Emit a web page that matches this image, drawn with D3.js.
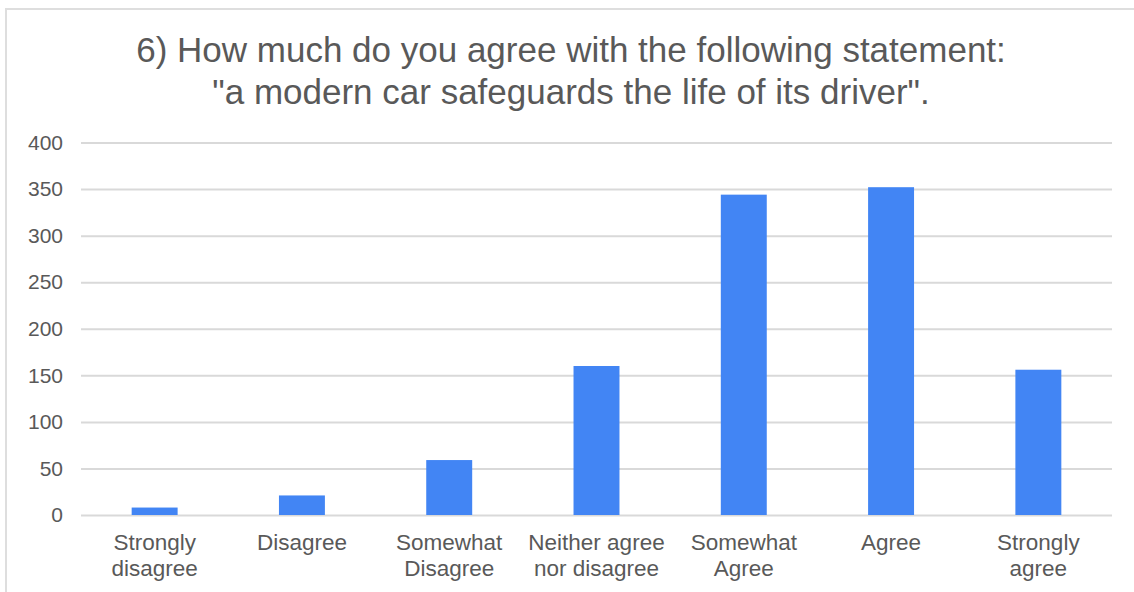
<!DOCTYPE html>
<html>
<head>
<meta charset="utf-8">
<script src="https://cdn.jsdelivr.net/npm/d3@7"></script>
<style>
  html, body { margin: 0; padding: 0; background: #ffffff; }
  svg { display: block; }
</style>
</head>
<body>
<svg id="chart" width="1134" height="592"></svg>
<script>
// Survey answers and response counts
const categories = [
  ["Strongly", "disagree"],
  ["Disagree"],
  ["Somewhat", "Disagree"],
  ["Neither agree", "nor disagree"],
  ["Somewhat", "Agree"],
  ["Agree"],
  ["Strongly", "agree"]
];
const counts = [8, 21, 59, 160, 344, 352, 156];
const yTicks = [0, 50, 100, 150, 200, 250, 300, 350, 400];
const titleLines = [
  "6) How much do you agree with the following statement:",
  "\"a modern car safeguards the life of its driver\"."
];

const W = 1134, H = 592;
const plot = { left: 81, right: 1112, top: 142.5, bottom: 515 };
const textColor = "#595959";
const gridColor = "#d9d9d9";
const barColor = "#4285f4";
const font = "'Liberation Sans', Arial, sans-serif";

const svg = d3.select("#chart");

// frame edges of the chart card
svg.append("line").attr("x1", 6).attr("x2", W).attr("y1", 9).attr("y2", 9)
  .attr("stroke", "#dedede").attr("stroke-width", 2);
svg.append("line").attr("x1", 6).attr("x2", 6).attr("y1", 8).attr("y2", H)
  .attr("stroke", "#dedede").attr("stroke-width", 2);

// title
svg.append("text")
  .attr("x", 571).attr("y", 62)
  .attr("text-anchor", "middle")
  .attr("font-family", font).attr("font-size", 35)
  .attr("fill", textColor)
  .selectAll("tspan").data(titleLines).join("tspan")
  .attr("x", 571)
  .attr("dy", (d, i) => i === 0 ? 0 : 42)
  .text(d => d);

const x = d3.scaleBand()
  .domain(d3.range(categories.length))
  .range([plot.left, plot.right])
  .paddingInner(0.688)
  .paddingOuter(0.344);

const y = d3.scaleLinear()
  .domain([0, 400])
  .range([plot.bottom, plot.top]);

// gridlines and y labels
const yAxis = d3.axisLeft(y)
  .tickValues(yTicks)
  .tickSize(-(plot.right - plot.left))
  .tickPadding(18);

const gy = svg.append("g")
  .attr("transform", `translate(${plot.left},0)`)
  .call(yAxis);
gy.select(".domain").remove();
gy.selectAll(".tick line").attr("stroke", gridColor).attr("stroke-width", 2);
gy.selectAll(".tick text")
  .attr("font-family", font).attr("font-size", 21)
  .attr("fill", textColor);

// bars
svg.append("g").selectAll("rect")
  .data(counts)
  .join("rect")
  .attr("x", (d, i) => x(i))
  .attr("width", x.bandwidth())
  .attr("y", d => y(d))
  .attr("height", d => y(0) - y(d))
  .attr("fill", barColor);

// category labels
const xAxis = d3.axisBottom(x).tickSize(0).tickFormat("");
const gx = svg.append("g")
  .attr("transform", `translate(0,${plot.bottom})`)
  .call(xAxis);
gx.select(".domain").remove();
gx.selectAll(".tick").each(function (i) {
  const t = d3.select(this).append("text")
    .attr("text-anchor", "middle")
    .attr("font-family", font).attr("font-size", 22.5)
    .attr("fill", textColor);
  categories[i].forEach((line, k) => {
    t.append("tspan").attr("x", 0).attr("y", 35 + k * 26).text(line);
  });
});
</script>
</body>
</html>
